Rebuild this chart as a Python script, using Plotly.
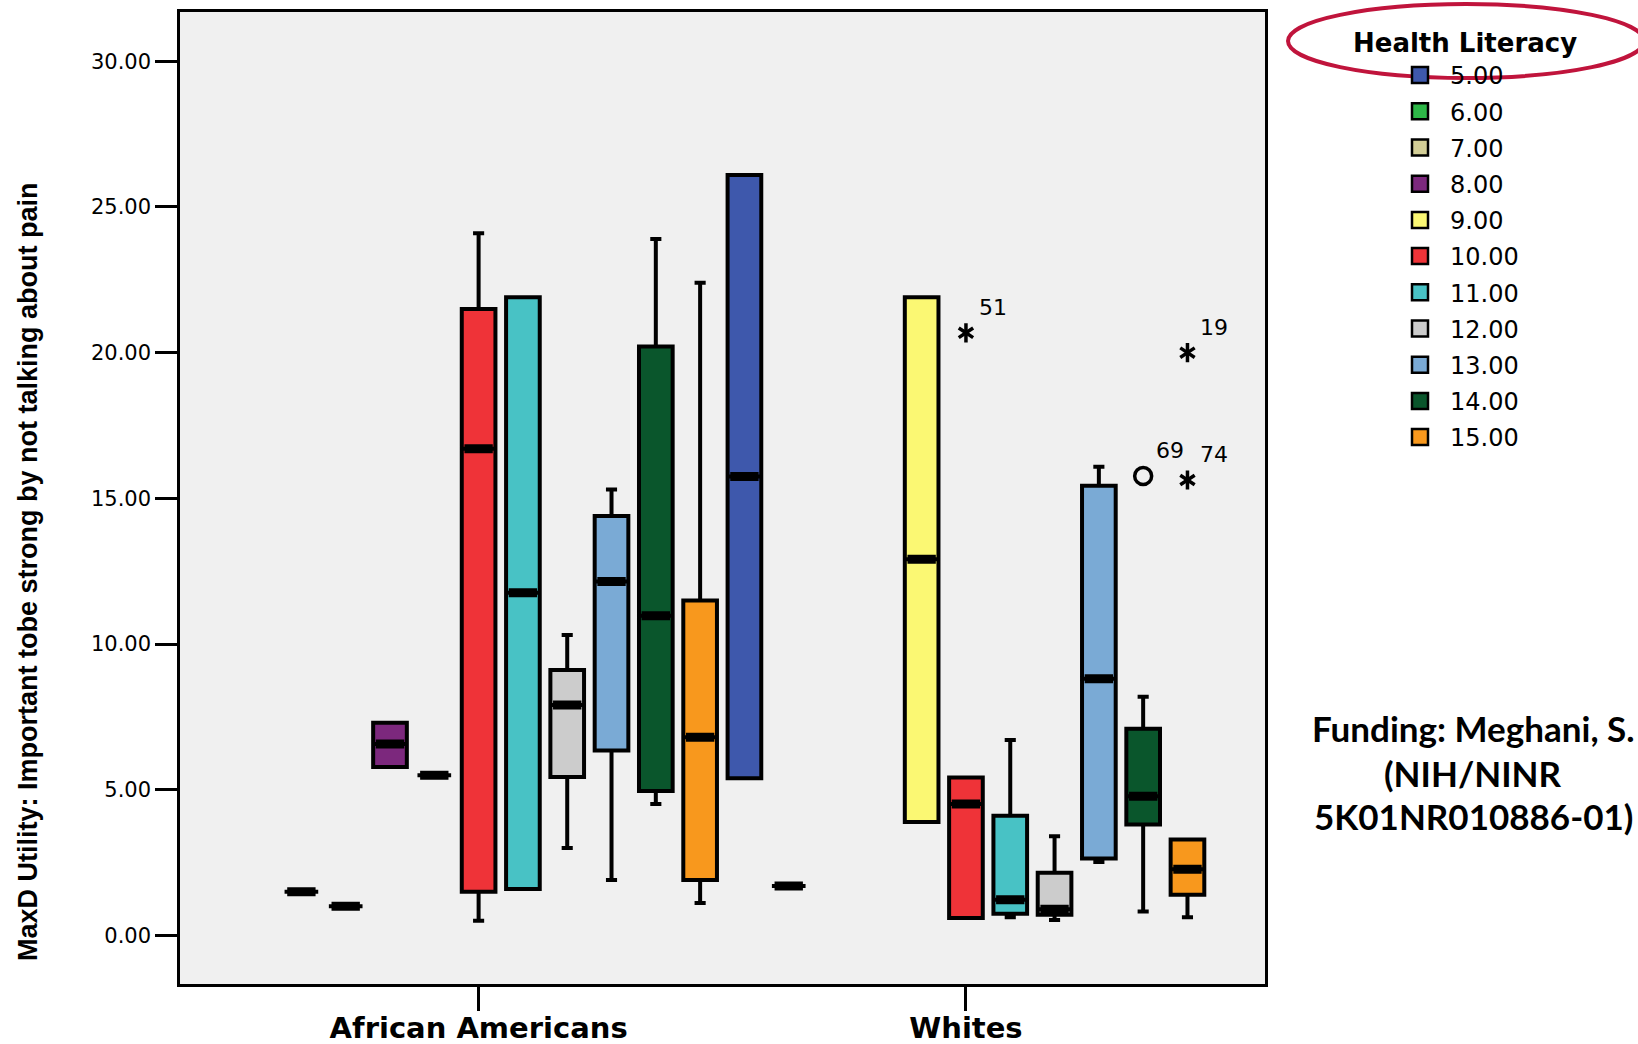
import plotly.graph_objects as go

# ---------------- data ----------------
groups = ["African Americans", "Whites"]
group_pos = [0, 11]          # cluster centres (slot units)
center_level = 10            # level drawn at the cluster centre

levels = [5, 6, 7, 8, 9, 10, 11, 12, 13, 14, 15, 16, 17]
level_labels = ["5.00", "6.00", "7.00", "8.00", "9.00", "10.00", "11.00",
                "12.00", "13.00", "14.00", "15.00", "16.00", "17.00"]
legend_count = 11            # legend shows 5.00 ... 15.00
colors = ["#3E58AC", "#2EB848", "#D3CE97", "#7C287D", "#FBF873", "#EF3338",
          "#48C2C5", "#CCCCCC", "#7AAAD5", "#0A562C", "#F8981D",
          "#3E58AC", "#2EB848"]

# African Americans box statistics per level (None = no box)
aa_lo  = [None, 1.5, 1.0, 5.78, 5.5, 0.5, 1.59, 3.0, 1.9, 4.51, 1.11, 5.39, 1.7]
aa_q1  = [None, 1.5, 1.0, 5.78, 5.5, 1.5, 1.59, 5.44, 6.35, 4.96, 1.9, 5.39, 1.7]
aa_med = [None, 1.5, 1.0, 6.57, 5.5, 16.7, 11.76, 7.91, 12.15, 10.97, 6.8, 15.75, 1.7]
aa_q3  = [None, 1.5, 1.0, 7.3, 5.5, 21.5, 21.9, 9.11, 14.39, 20.21, 11.49, 26.1, 1.7]
aa_hi  = [None, 1.5, 1.0, 7.3, 5.5, 24.1, 21.9, 10.31, 15.3, 23.9, 22.4, 26.1, 1.7]

# Whites box statistics per level
wh_lo  = [None, None, None, None, 3.89, 0.6, 0.62, 0.53, 2.52, 0.82, 0.62, None, None]
wh_q1  = [None, None, None, None, 3.89, 0.6, 0.74, 0.71, 2.64, 3.81, 1.4, None, None]
wh_med = [None, None, None, None, 12.91, 4.51, 1.22, 0.9, 8.81, 4.78, 2.27, None, None]
wh_q3  = [None, None, None, None, 21.9, 5.42, 4.11, 2.15, 15.43, 7.09, 3.29, None, None]
wh_hi  = [None, None, None, None, 21.9, 5.42, 6.71, 3.4, 16.08, 8.19, 3.29, None, None]

# outliers (o) / extremes (*) (Whites)
out_group = [1, 1, 1, 1]
out_level = [10, 15, 14, 15]
out_value = [20.68, 20.0, 15.77, 15.63]
out_id    = ["51", "19", "69", "74"]
out_kind  = ["extreme", "extreme", "outlier", "extreme"]

y_ticks = [0, 5, 10, 15, 20, 25, 30]

stats = [
    dict(lo=aa_lo, q1=aa_q1, med=aa_med, q3=aa_q3, hi=aa_hi),
    dict(lo=wh_lo, q1=wh_q1, med=wh_med, q3=wh_q3, hi=wh_hi),
]

# ---------------- figure ----------------
W, H = 1638, 1044
L, R, T, B = 180, 1265, 12, 984


def px(xp):
    return (xp - L) / (R - L)


def py(yp):
    return (B - yp) / (B - T)


fig = go.Figure()

for i, lv in enumerate(levels):
    xs, lo, q1, med, q3, hi = [], [], [], [], [], []
    for gi, st in enumerate(stats):
        if st["q1"][i] is None:
            continue
        xs.append(group_pos[gi] + (lv - center_level))
        lo.append(st["lo"][i]); q1.append(st["q1"][i]); med.append(st["med"][i])
        q3.append(st["q3"][i]); hi.append(st["hi"][i])
    if not xs:
        continue
    fig.add_trace(go.Box(
        x=xs, q1=q1, median=med, q3=q3, lowerfence=lo, upperfence=hi,
        orientation="v", width=0.76, whiskerwidth=0.33,
        fillcolor=colors[i], line=dict(color="black", width=4),
        boxpoints=False, showlegend=False, hoverinfo="skip",
        name=level_labels[i]))
    # thick median bar
    fig.add_trace(go.Box(
        x=xs, q1=med, median=med, q3=med, lowerfence=med, upperfence=med,
        orientation="v", width=0.64, whiskerwidth=0,
        fillcolor="rgba(0,0,0,0)", line=dict(color="black", width=9),
        boxpoints=False, showlegend=False, hoverinfo="skip",
        name=level_labels[i]))

# outliers: circles for outliers, six-armed asterisks for extremes
ox = [group_pos[g] + (lv - center_level) for g, lv in zip(out_group, out_level)]
ext_x = [x for x, k in zip(ox, out_kind) if k == "extreme"]
ext_y = [y for y, k in zip(out_value, out_kind) if k == "extreme"]
oth_x = [x for x, k in zip(ox, out_kind) if k == "outlier"]
oth_y = [y for y, k in zip(out_value, out_kind) if k == "outlier"]
for symb in ["y-up-open", "y-down-open"]:
    fig.add_trace(go.Scatter(
        x=ext_x, y=ext_y, mode="markers", showlegend=False, hoverinfo="skip",
        marker=dict(symbol=symb, size=12, color="black",
                    line=dict(color="black", width=3.5))))
fig.add_trace(go.Scatter(
    x=oth_x, y=oth_y, mode="markers", showlegend=False, hoverinfo="skip",
    marker=dict(symbol="circle-open", size=17, color="black",
                line=dict(color="black", width=3.5))))
for xv, yv, lab in zip(ox, out_value, out_id):
    fig.add_annotation(x=xv, y=yv, text=lab, showarrow=False, xanchor="left",
                       yanchor="middle", xshift=11, yshift=25,
                       font=dict(family="DejaVu Sans", size=22, color="black"))

# legend entries
for i in range(legend_count):
    fig.add_trace(go.Scatter(
        x=[None], y=[None], mode="markers", name=level_labels[i],
        legendgroup=level_labels[i],
        marker=dict(symbol="square", size=16, color=colors[i],
                    line=dict(color="black", width=2.5))))

fig.update_layout(
    width=W, height=H,
    margin=dict(l=L, r=W - R, t=T, b=H - B, autoexpand=False),
    paper_bgcolor="white", plot_bgcolor="#F0F0F0",
    showlegend=True,
    legend=dict(x=px(1390), xanchor="left", y=py(53), yanchor="top",
                font=dict(family="DejaVu Sans", size=24, color="black"),
                bgcolor="rgba(0,0,0,0)", tracegroupgap=2, itemwidth=50,
                traceorder="grouped"),
    xaxis=dict(range=[-6.74, 17.75], tickmode="array", tickvals=group_pos,
               ticktext=groups, ticks="outside", ticklen=24, tickwidth=2.5,
               tickcolor="black", showgrid=False, zeroline=False,
               showline=True, mirror=True, linecolor="black", linewidth=2.5,
               automargin=False, ticklabelstandoff=-8,
               tickfont=dict(family="DejaVu Sans", size=29, color="black",
                             weight="bold")),
    yaxis=dict(range=[-1.667, 31.69], tickmode="array", tickvals=y_ticks,
               tickformat=".2f", ticks="outside", ticklen=22, tickwidth=2.5,
               tickcolor="black", showgrid=False, zeroline=False,
               showline=True, mirror=True, linecolor="black", linewidth=2.5,
               automargin=False,
               tickfont=dict(family="DejaVu Sans", size=21, color="black")),
)

# y-axis title
fig.add_annotation(
    x=px(28), y=py(572), xref="paper", yref="paper", showarrow=False,
    text="MaxD Utility: Important tobe strong by not talking about pain",
    textangle=-90, xanchor="center", yanchor="middle",
    font=dict(family="Liberation Sans", size=27, color="black", weight="bold"))

# legend title
fig.add_annotation(
    x=px(1465), y=py(43), xref="paper", yref="paper", showarrow=False,
    text="Health Literacy", xanchor="center", yanchor="middle",
    font=dict(family="DejaVu Sans", size=26, color="black", weight="bold"))

# funding note
for txt, yc in [("Funding: Meghani, S.", 728), ("(NIH/NINR", 773),
                ("5K01NR010886-01)", 816)]:
    fig.add_annotation(
        x=px(1473), y=py(yc), xref="paper", yref="paper", showarrow=False,
        text=txt, xanchor="center", yanchor="middle",
        font=dict(family="Lato", size=35, color="black", weight="bold"))

# red ellipse around legend title
fig.add_shape(type="circle", xref="paper", yref="paper",
              x0=px(1288), x1=px(1644), y0=py(78), y1=py(4),
              line=dict(color="#C0143C", width=4), layer="above")

fig.write_html("out.html",
               config={"displayModeBar": False},
               post_script="document.body.style.margin='0';"
                           "document.body.style.overflow='hidden';")
